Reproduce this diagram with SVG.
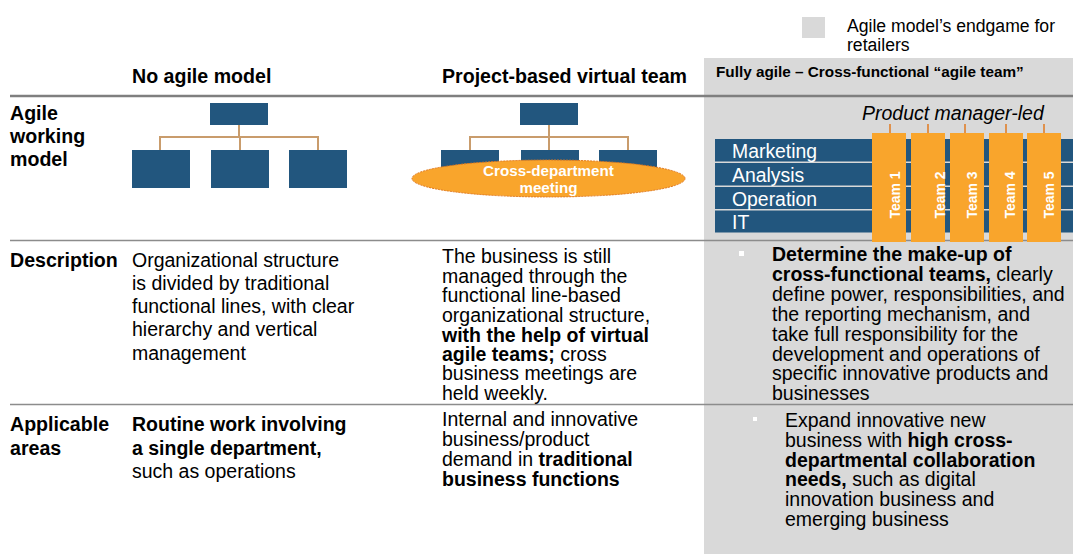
<svg xmlns="http://www.w3.org/2000/svg" width="1073" height="554" viewBox="0 0 1073 554">
<style>
text{font-family:"Liberation Sans",Arial,sans-serif;fill:#000}
.b{font-weight:bold}
.hd{font-size:19.6px;font-weight:bold}
.t{font-size:19.5px}
.box{fill:#22567e}
.conn{stroke:#c99c6c;stroke-width:2;fill:none}
.tick{stroke:#e0781e;stroke-width:1.5}
.team{fill:#f9a52c}
.tl{font-size:14px;font-weight:bold;fill:#fff}
.fn{font-size:19.4px;fill:#fff}
.rule{stroke:#8c8c8c;stroke-width:1.5}
.wb{fill:#fff}
</style>
<rect x="0" y="0" width="1073" height="554" fill="#fff"/>
<g id="endgame-panel">
<rect x="704" y="58" width="369" height="496" fill="#d9d9d9"/>
</g>
<g id="legend">
<rect x="802" y="17" width="23" height="21" fill="#d9d9d9"/>
<text x="847" y="32" style="font-size:17.6px">Agile model’s endgame for</text>
<text x="847" y="51" style="font-size:17.6px">retailers</text>
</g>
<g id="rules">
<line x1="10" y1="96" x2="1073" y2="96" stroke="#7f7f7f" stroke-width="2.5"/>
<line class="rule" x1="10" y1="240.5" x2="1073" y2="240.5"/>
<line class="rule" x1="10" y1="404.5" x2="1073" y2="404.5"/>
</g>
<g id="col-headers">
<text class="hd" x="132" y="83">No agile model</text>
<text class="hd" x="442" y="83">Project-based virtual team</text>
<text x="716" y="77" style="font-size:15.3px;font-weight:bold">Fully agile – Cross-functional “agile team”</text>
</g>
<g id="row-headers">
<text class="hd" x="10" y="120">Agile</text>
<text class="hd" x="10" y="143">working</text>
<text class="hd" x="10" y="166">model</text>
<text class="hd" x="10" y="267">Description</text>
<text class="hd" x="10" y="431">Applicable</text>
<text class="hd" x="10" y="455">areas</text>
</g>
<g id="connectors">
<path class="conn" d="M239 125V137M160 150V137H318V150M240 137V150"/>
<path class="conn" d="M549 125V137M470 150V137H628V150M549 137V150"/>
<line class="tick" x1="890" y1="124" x2="890" y2="133"/>
<line class="tick" x1="928" y1="124" x2="928" y2="133"/>
<line class="tick" x1="965" y1="124" x2="965" y2="133"/>
<line class="tick" x1="1006" y1="124" x2="1006" y2="133"/>
<line class="tick" x1="1044" y1="124" x2="1044" y2="133"/>
</g>
<g id="orgchart-1">
<rect class="box" x="210" y="103" width="58" height="22"/>
<rect class="box" x="132" y="150" width="58" height="38"/>
<rect class="box" x="211" y="150" width="58" height="38"/>
<rect class="box" x="289" y="150" width="58" height="38"/>
</g>
<g id="orgchart-2">
<rect class="box" x="520" y="103" width="58" height="22"/>
<rect class="box" x="441" y="150" width="58" height="38"/>
<rect class="box" x="521" y="150" width="58" height="38"/>
<rect class="box" x="599" y="150" width="58" height="38"/>
</g>
<g id="cross-department-meeting">
<ellipse cx="548.5" cy="178.5" rx="136.5" ry="18.5" fill="#f9a52c" stroke="#e0781e" stroke-width="1" stroke-dasharray="2 1"/>
<text x="548.5" y="176" text-anchor="middle" style="font-size:15.2px;font-weight:bold;fill:#fff">Cross-department</text>
<text x="548.5" y="193" text-anchor="middle" style="font-size:15.2px;font-weight:bold;fill:#fff">meeting</text>
</g>
<g id="functions">
<rect class="box" x="715" y="139" width="358" height="22.5"/>
<rect class="box" x="715" y="163" width="358" height="22.5"/>
<rect class="box" x="715" y="187" width="358" height="22"/>
<rect class="box" x="715" y="210.5" width="358" height="22"/>
<text class="fn" x="732" y="158">Marketing</text>
<text class="fn" x="732" y="181.5">Analysis</text>
<text class="fn" x="732" y="205.5">Operation</text>
<text class="fn" x="732" y="228.5">IT</text>
</g>
<g id="product-manager-label">
<text x="862" y="120" style="font-size:19.5px;font-style:italic">Product manager-led</text>
</g>
<g id="team-1"><rect class="team" x="872" y="133" width="34" height="109"/><text class="tl" transform="translate(900 195) rotate(-90)" text-anchor="middle">Team 1</text></g>
<g id="team-2"><rect class="team" x="911" y="133" width="34" height="109"/><text class="tl" transform="translate(945 195) rotate(-90)" text-anchor="middle">Team 2</text></g>
<g id="team-3"><rect class="team" x="950" y="133" width="34" height="109"/><text class="tl" transform="translate(977 195) rotate(-90)" text-anchor="middle">Team 3</text></g>
<g id="team-4"><rect class="team" x="989" y="133" width="34" height="109"/><text class="tl" transform="translate(1015 195) rotate(-90)" text-anchor="middle">Team 4</text></g>
<g id="team-5"><rect class="team" x="1027" y="133" width="34" height="109"/><text class="tl" transform="translate(1054 195) rotate(-90)" text-anchor="middle">Team 5</text></g>
<g id="desc-1">
<text class="t" x="132" y="267">Organizational structure</text>
<text class="t" x="132" y="290">is divided by traditional</text>
<text class="t" x="132" y="313">functional lines, with clear</text>
<text class="t" x="132" y="336">hierarchy and vertical</text>
<text class="t" x="132" y="360">management</text>
</g>
<g id="desc-2">
<text class="t" x="442" y="263">The business is still</text>
<text class="t" x="442" y="282.5">managed through the</text>
<text class="t" x="442" y="302">functional line-based</text>
<text class="t" x="442" y="321.5">organizational structure,</text>
<text class="t b" x="442" y="341.5">with the help of virtual</text>
<text class="t" x="442" y="361"><tspan class="b">agile teams;</tspan> cross</text>
<text class="t" x="442" y="380">business meetings are</text>
<text class="t" x="442" y="399.5">held weekly.</text>
</g>
<g id="desc-3">
<rect class="wb" x="739" y="251" width="5" height="5"/>
<text class="t b" x="772" y="261">Determine the make-up of</text>
<text class="t" x="772" y="281"><tspan class="b">cross-functional teams,</tspan> clearly</text>
<text class="t" x="772" y="301">define power, responsibilities, and</text>
<text class="t" x="772" y="321">the reporting mechanism, and</text>
<text class="t" x="772" y="341">take full responsibility for the</text>
<text class="t" x="772" y="360.5">development and operations of</text>
<text class="t" x="772" y="380">specific innovative products and</text>
<text class="t" x="772" y="399.5">businesses</text>
</g>
<g id="appl-1">
<text class="t b" x="132" y="431">Routine work involving</text>
<text class="t b" x="132" y="455">a single department,</text>
<text class="t" x="132" y="478">such as operations</text>
</g>
<g id="appl-2">
<text class="t" x="442" y="426">Internal and innovative</text>
<text class="t" x="442" y="445.5">business/product</text>
<text class="t" x="442" y="466">demand in <tspan class="b">traditional</tspan></text>
<text class="t b" x="442" y="486">business functions</text>
</g>
<g id="appl-3">
<rect class="wb" x="753" y="417" width="4" height="4"/>
<text class="t" x="785" y="427">Expand innovative new</text>
<text class="t" x="785" y="447">business with <tspan class="b">high cross-</tspan></text>
<text class="t b" x="785" y="467">departmental collaboration</text>
<text class="t" x="785" y="486"><tspan class="b">needs,</tspan> such as digital</text>
<text class="t" x="785" y="506">innovation business and</text>
<text class="t" x="785" y="526">emerging business</text>
</g>
</svg>
